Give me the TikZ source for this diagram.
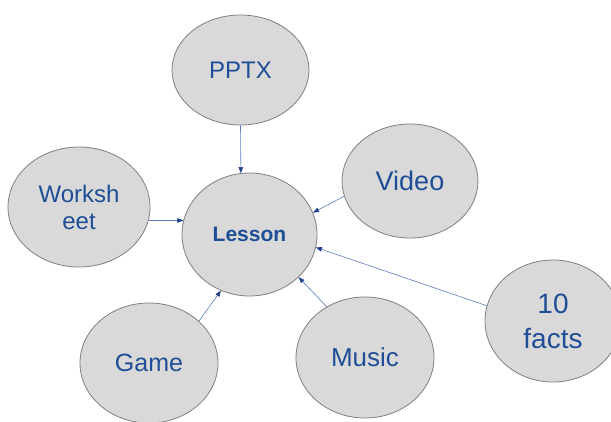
\documentclass[tikz,border=0pt]{standalone}
\usepackage{fontspec}
\setmainfont{Liberation Sans}
\usetikzlibrary{shapes.geometric,arrows.meta}
\definecolor{bubblefill}{HTML}{D9D9D9}
\definecolor{bubbleline}{HTML}{7F7F7F}
\definecolor{txtblue}{HTML}{1F4E96}
\definecolor{linkblue}{HTML}{5B7DBA}
\definecolor{tipblue}{HTML}{1F3F8F}
\tikzset{
  bubble/.style={ellipse, draw=bubbleline, fill=bubblefill, line width=0.8pt,
    inner sep=0pt, align=center, text=txtblue},
  link/.style={draw=linkblue, line width=0.6pt,
    -{Triangle[length=6pt,width=4.5pt,fill=tipblue,color=tipblue]}}
}
\begin{document}
\begin{tikzpicture}[x=1pt,y=-1pt]
\useasboundingbox (0,0) rectangle (611,421);
\fill[white] (0,0) rectangle (611,421);
\begin{scope}
\clip (0,0) rectangle (611,421);
\node[bubble, minimum width=137pt, minimum height=110pt, font=\fontsize{24}{28}\selectfont] (pptx) at (240.5,70) {PPTX};
\node[bubble, minimum width=135pt, minimum height=123pt, font=\bfseries\fontsize{21}{25}\selectfont] (lesson) at (249.5,234.5) {Lesson};
\node[bubble, minimum width=142pt, minimum height=120pt, font=\fontsize{24}{27}\selectfont] (ws) at (79,207) {Worksh\\eet};
\node[bubble, minimum width=136pt, minimum height=114pt, font=\fontsize{27}{30}\selectfont] (video) at (410,181) {Video};
\node[bubble, minimum width=136pt, minimum height=122pt, font=\fontsize{28}{35}\selectfont] (facts) at (553,321) {10\\facts};
\node[bubble, minimum width=138pt, minimum height=120pt, font=\fontsize{25}{30}\selectfont] (game) at (149,363) {Game};
\node[bubble, minimum width=138pt, minimum height=121pt, font=\fontsize{26}{30}\selectfont] (music) at (365,357.5) {Music};
\end{scope}
\draw[link] (pptx.-90) -- (lesson.98.8);
\draw[link] (ws.-11.5) -- (lesson.168);
\draw[link] (video.193.8) -- (lesson.19.5);
\draw[link] (facts.167) -- (lesson.-11.3);
\draw[link] (music.127) -- (lesson.-41.9);
\draw[link] (game.40) -- (lesson.-117.9);
\end{tikzpicture}
\end{document}
